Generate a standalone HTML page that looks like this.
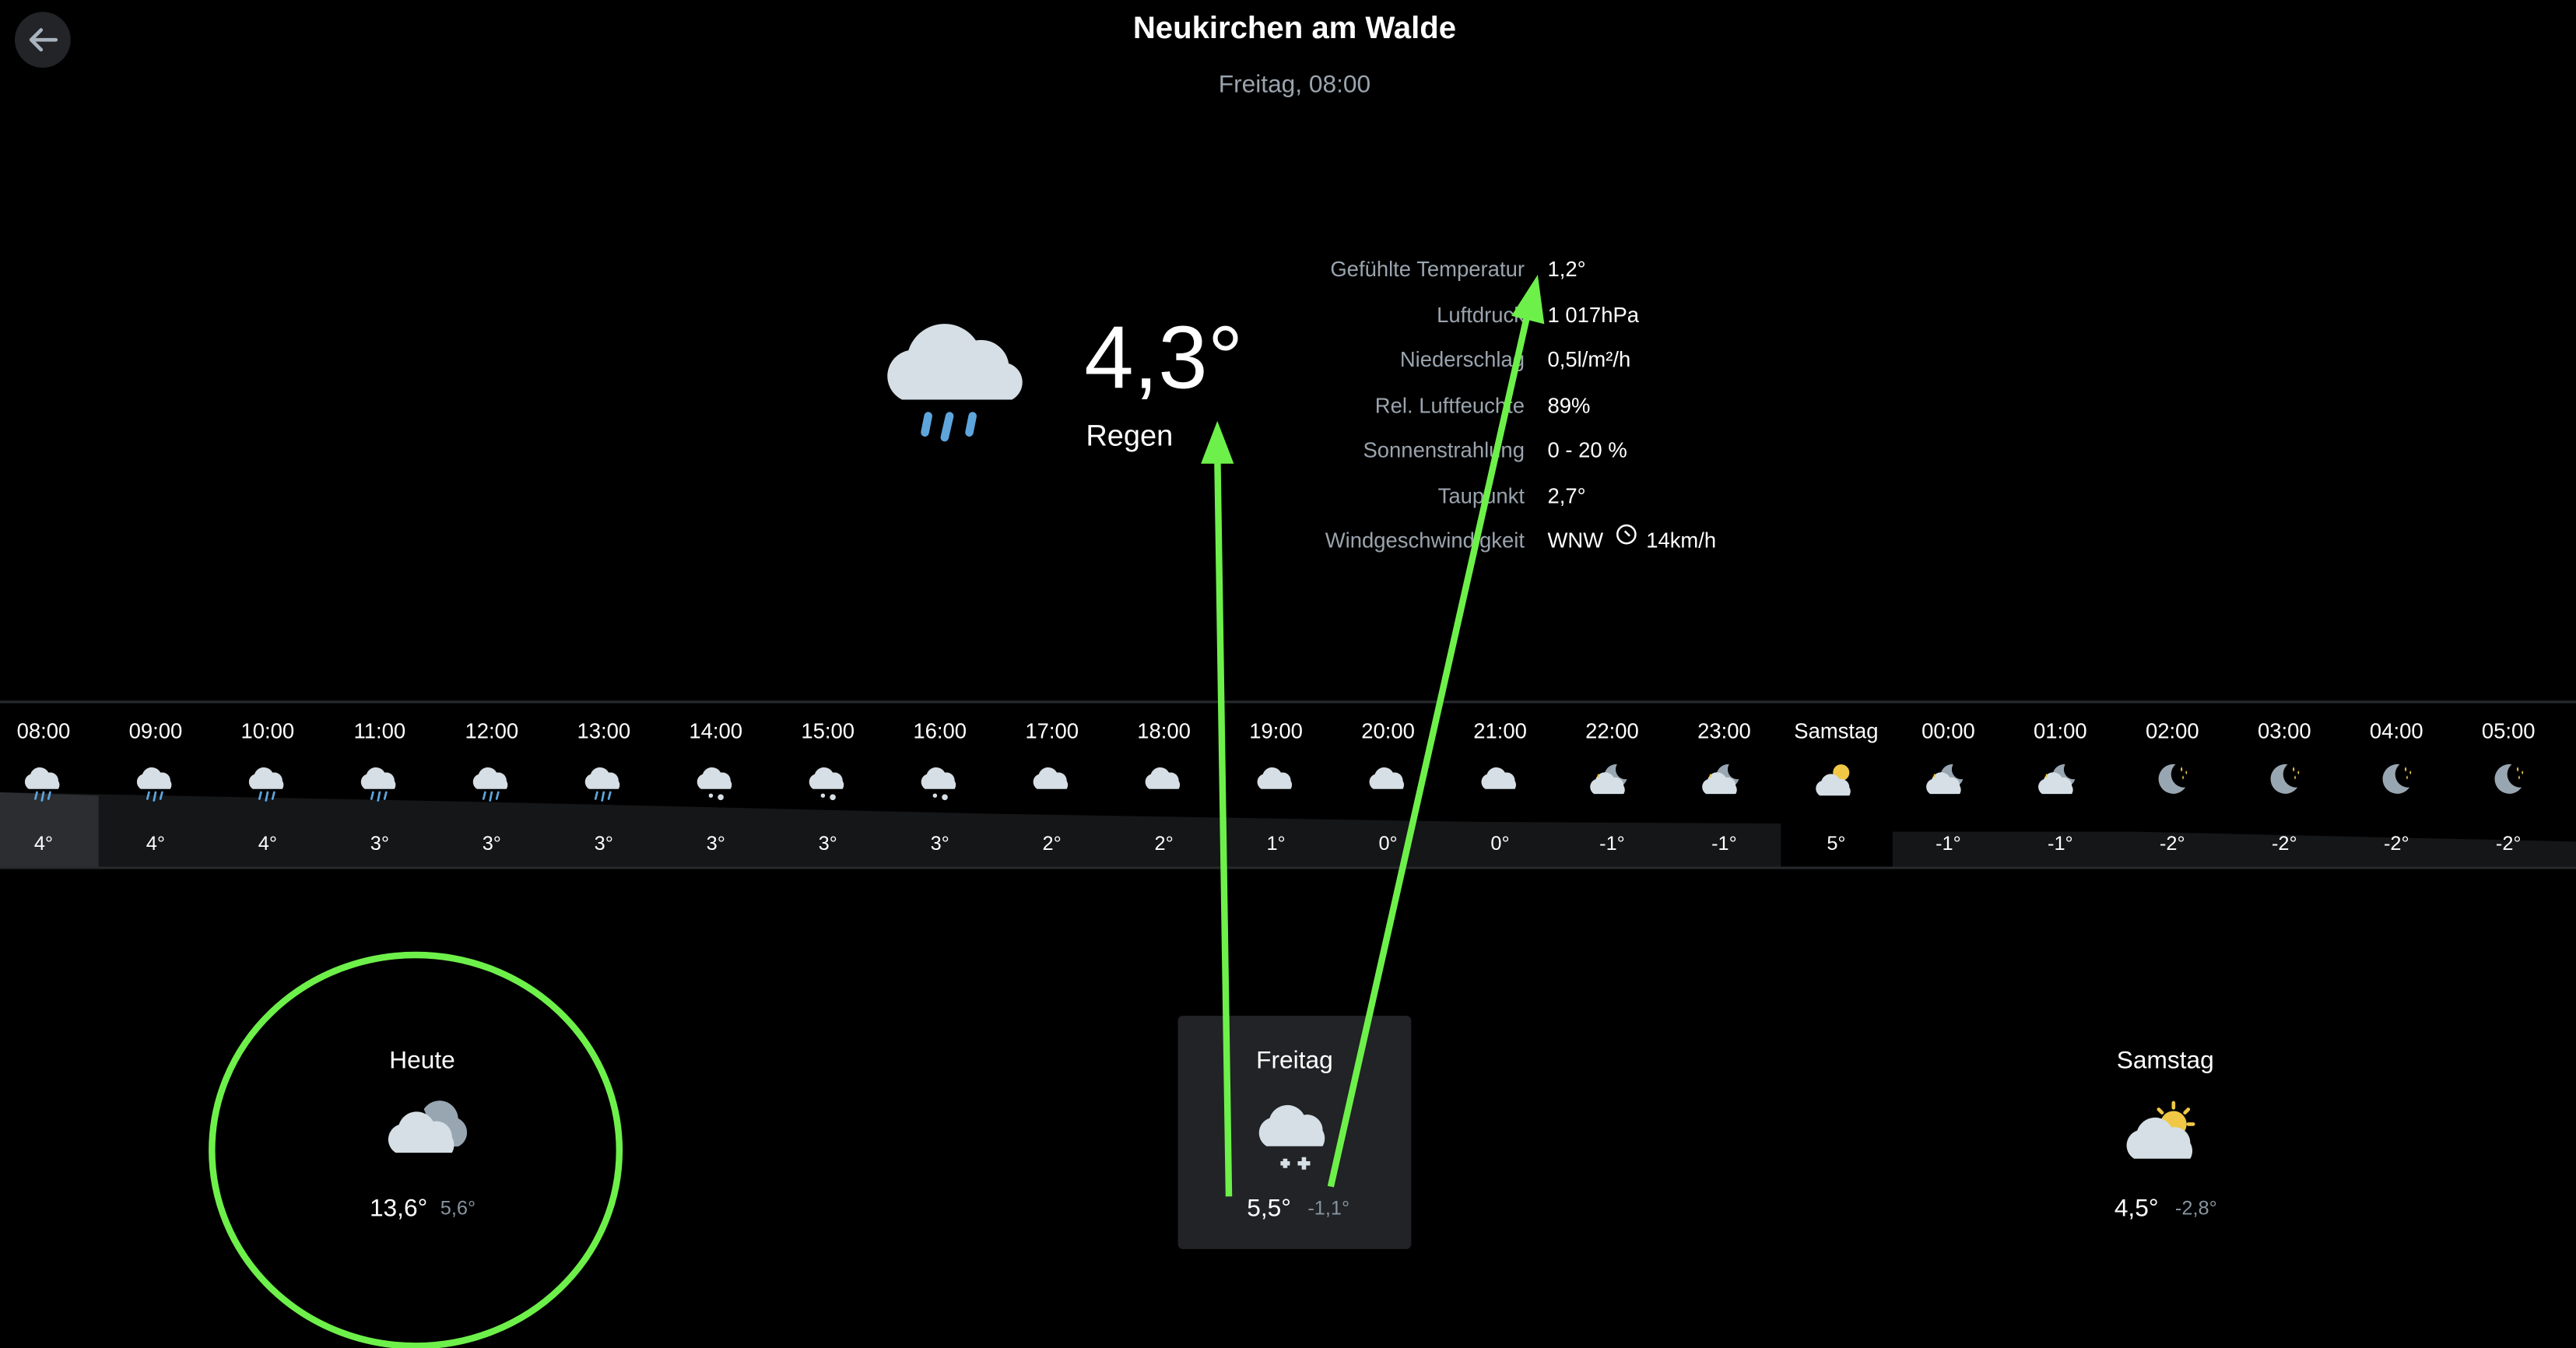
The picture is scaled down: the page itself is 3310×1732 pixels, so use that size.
<!DOCTYPE html>
<html><head><meta charset="utf-8"><style>
html,body{margin:0;padding:0;background:#000;width:3310px;height:1732px;overflow:hidden}
svg{display:block}
text{font-family:"Liberation Sans",sans-serif}
</style></head><body>
<svg width="3310" height="1732" viewBox="0 0 1568 820" xmlns="http://www.w3.org/2000/svg">
<defs>
<g id="cl"><path d="M-9,6 a5,5 0 0 1 1,-9 a6,6 0 0 1 11,-1 a5,5 0 0 1 6,5 a5,5 0 0 1 0,5 z" fill="#d5dfe5"/></g>
<g id="rain"><use href="#cl"/><path d="M-4,8 l-1,4 M0,8 l-1,5 M4,8 l-1,4" stroke="#5ea5dc" stroke-width="1.3" stroke-linecap="round"/></g>
<g id="snow"><use href="#cl"/><circle cx="-3" cy="10" r="1.3" fill="#d5dfe5"/><circle cx="3" cy="11" r="1.8" fill="#d5dfe5"/></g>
<g id="ncl"><path d="M3,-9 a7,7 0 1 0 6,9 a6,6 0 0 1 -6,-9z" fill="#98a6b2"/><use href="#cl" transform="translate(-2,3)"/><path d="M-9,-2 l0.6,-1.5 0.6,1.5 -0.6,1.5z" fill="#f0c846"/></g>
<g id="moon"><path d="M2,-9 a9,9 0 1 0 6,14 a8,8 0 0 1 -6,-14z" fill="#98a6b2"/><path d="M5,-6 l0.6,-1.6 0.6,1.6 -0.6,1.6z M8,-4 l0.5,-1.3 0.5,1.3 -0.5,1.3z M6,-1 l0.5,-1.3 0.5,1.3 -0.5,1.3z" fill="#f0c846"/></g>
<g id="sun"><circle cx="3" cy="-4" r="5" fill="#f0c846"/><use href="#cl" transform="translate(-1,4)"/></g>
</defs>
<rect width="1568" height="820" fill="#000"/>
<!-- back -->
<circle cx="26" cy="24" r="17" fill="#222427"/>
<path d="M34,24 H19 M25,18 L19,24 L25,30" stroke="#a8b3be" stroke-width="2.2" fill="none" stroke-linecap="round" stroke-linejoin="round"/>
<text x="788" y="23" fill="#fff" font-size="19" font-weight="bold" text-anchor="middle">Neukirchen am Walde</text>
<text x="788" y="56" fill="#9aa4ae" font-size="15" text-anchor="middle">Freitag, 08:00</text>
<!-- main icon -->
<path d="M549,243 a16,16 0 0 1 4,-30 a23,23 0 0 1 41,-6 a17,17 0 0 1 20,14 a12,12 0 0 1 2,22z" fill="#d5dfe5"/>
<path d="M565,253 l-2,10 M578,253 l-3,13 M592,253 l-2,10" stroke="#5ea5dc" stroke-width="5" stroke-linecap="round"/>
<text x="660" y="236" fill="#fff" font-size="54">4,3°</text>
<text x="661" y="271" fill="#fff" font-size="18">Regen</text>
<g font-size="13" fill="#9aa4ae" text-anchor="end">
<text x="928" y="168">Gefühlte Temperatur</text><text x="928" y="196">Luftdruck</text><text x="928" y="223">Niederschlag</text><text x="928" y="251">Rel. Luftfeuchte</text><text x="928" y="278">Sonnenstrahlung</text><text x="928" y="306">Taupunkt</text><text x="928" y="333">Windgeschwindigkeit</text>
</g>
<g font-size="13" fill="#fff">
<text x="942" y="168">1,2°</text><text x="942" y="196">1 017hPa</text><text x="942" y="223">0,5l/m²/h</text><text x="942" y="251">89%</text><text x="942" y="278">0 - 20 %</text><text x="942" y="306">2,7°</text><text x="942" y="333">WNW</text><text x="1002" y="333">14km/h</text>
</g>
<circle cx="990" cy="325" r="5.5" fill="none" stroke="#fff" stroke-width="1.2"/><path d="M989,323 l3,3" stroke="#fff" stroke-width="1.2"/>
<!-- strip -->
<line x1="0" y1="427" x2="1568" y2="427" stroke="#26282b" stroke-width="1.5"/>
<path d="M0,482 L300,488 L600,495 L900,500 L1084,501 L1084,528 L0,528z" fill="#151618"/>
<path d="M1152,506 L1300,506 L1568,512 L1568,528 L1152,528z" fill="#151618"/>
<path d="M0,482 L60,484 L60,528 L0,528z" fill="#2b2d31"/>
<line x1="0" y1="528" x2="1568" y2="528" stroke="#26282b" stroke-width="1.5"/>
<g font-size="13" fill="#fff" text-anchor="middle">
<text x="26.5" y="449">08:00</text><text x="94.7" y="449">09:00</text><text x="162.9" y="449">10:00</text><text x="231.1" y="449">11:00</text><text x="299.3" y="449">12:00</text><text x="367.5" y="449">13:00</text><text x="435.7" y="449">14:00</text><text x="503.9" y="449">15:00</text><text x="572.1" y="449">16:00</text><text x="640.3" y="449">17:00</text><text x="708.5" y="449">18:00</text><text x="776.7" y="449">19:00</text><text x="844.9" y="449">20:00</text><text x="913.1" y="449">21:00</text><text x="981.3" y="449">22:00</text><text x="1049.5" y="449">23:00</text><text x="1117.7" y="449">Samstag</text><text x="1185.9" y="449">00:00</text><text x="1254.1" y="449">01:00</text><text x="1322.3" y="449">02:00</text><text x="1390.5" y="449">03:00</text><text x="1458.7" y="449">04:00</text><text x="1526.9" y="449">05:00</text>
</g>
<g font-size="12" fill="#fff" text-anchor="middle">
<text x="26.5" y="517">4°</text><text x="94.7" y="517">4°</text><text x="162.9" y="517">4°</text><text x="231.1" y="517">3°</text><text x="299.3" y="517">3°</text><text x="367.5" y="517">3°</text><text x="435.7" y="517">3°</text><text x="503.9" y="517">3°</text><text x="572.1" y="517">3°</text><text x="640.3" y="517">2°</text><text x="708.5" y="517">2°</text><text x="776.7" y="517">1°</text><text x="844.9" y="517">0°</text><text x="913.1" y="517">0°</text><text x="981.3" y="517">-1°</text><text x="1049.5" y="517">-1°</text><text x="1117.7" y="517">5°</text><text x="1185.9" y="517">-1°</text><text x="1254.1" y="517">-1°</text><text x="1322.3" y="517">-2°</text><text x="1390.5" y="517">-2°</text><text x="1458.7" y="517">-2°</text><text x="1526.9" y="517">-2°</text>
</g>
<g transform="translate(0,474)">
<use href="#rain" x="26.5"/><use href="#rain" x="94.7"/><use href="#rain" x="162.9"/><use href="#rain" x="231.1"/><use href="#rain" x="299.3"/><use href="#rain" x="367.5"/><use href="#snow" x="435.7"/><use href="#snow" x="503.9"/><use href="#snow" x="572.1"/><use href="#cl" x="640.3"/><use href="#cl" x="708.5"/><use href="#cl" x="776.7"/><use href="#cl" x="844.9"/><use href="#cl" x="913.1"/><use href="#ncl" x="981.3"/><use href="#ncl" x="1049.5"/><use href="#sun" x="1117.7"/><use href="#ncl" x="1185.9"/><use href="#ncl" x="1254.1"/><use href="#moon" x="1322.3"/><use href="#moon" x="1390.5"/><use href="#moon" x="1458.7"/><use href="#moon" x="1526.9"/>
</g>
<!-- days -->
<rect x="717" y="618" width="142" height="142" rx="3" fill="#212326"/>
<g font-size="15" fill="#fff" text-anchor="middle">
<text x="257" y="650">Heute</text><text x="788" y="650">Freitag</text><text x="1318" y="650">Samstag</text>
</g>
<g transform="translate(258,690) scale(1.9)"><path d="M0,-8 a6,6 0 0 1 11,3 a5,5 0 0 1 0,9 h-6z" fill="#98a6b2"/><use href="#cl"/></g>
<g transform="translate(788,686) scale(1.9)"><use href="#cl"/><path d="M-3,10 v3 M-4.5,11.5 h3 M3,9.5 v4 M1,11.5 h4" stroke="#d5dfe5" stroke-width="1.4"/></g>
<g transform="translate(1318,686)"><path d="M1320,0" /><g stroke="#f0c846" stroke-width="2.2" stroke-linecap="round"><path d="M5,-15 v3 M-4,-11 l2,2 M14,-11 l-2,2 M17,-2 h-3"/></g><circle cx="5" cy="-2" r="8" fill="#f0c846"/><g transform="scale(1.9) translate(-1,4)"><use href="#cl"/></g></g>
<g font-size="15" fill="#fff"><text x="225" y="740">13,6°</text><text x="759" y="740">5,5°</text><text x="1287" y="740">4,5°</text></g>
<g font-size="12" fill="#8794a1"><text x="268" y="739">5,6°</text><text x="796" y="739">-1,1°</text><text x="1324" y="739">-2,8°</text></g>
<!-- annotations -->
<ellipse cx="253" cy="700" rx="124" ry="119" fill="none" stroke="#6ef04a" stroke-width="4"/>
<line x1="748" y1="728" x2="741" y2="275" stroke="#6ef04a" stroke-width="4"/>
<path d="M741,256 L731,282 L751,282z" fill="#6ef04a"/>
<line x1="810" y1="722" x2="930" y2="190" stroke="#6ef04a" stroke-width="4"/>
<path d="M936,167 L920,192 L940,197z" fill="#6ef04a"/>
</svg>
</body></html>
